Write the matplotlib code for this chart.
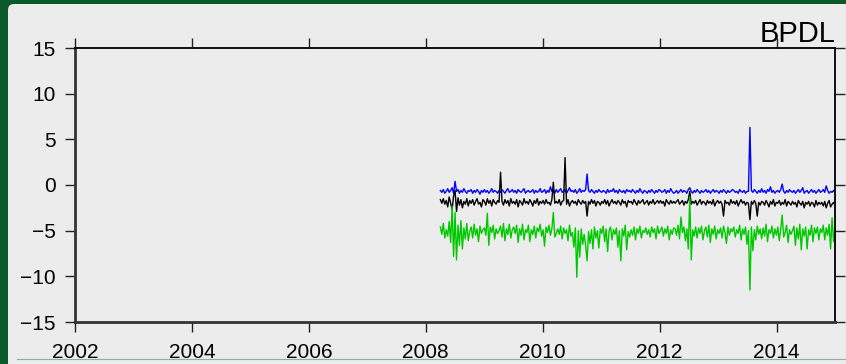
import numpy as np
import matplotlib.pyplot as plt
from matplotlib.patches import FancyBboxPatch
from matplotlib.lines import Line2D
from matplotlib.transforms import IdentityTransform

plt.rcParams['font.family'] = ['Liberation Sans', 'DejaVu Sans']

station = 'BPDL'
t_start, t_end = 2008.25, 2015.0
x_ticks = [2002, 2004, 2006, 2008, 2010, 2012, 2014]
y_ticks = [-15, -10, -5, 0, 5, 10, 15]

# blue series, 10 samples per quarter year
blue_vals = [
    -0.6, -0.8, -0.5, -0.9, -0.7, -0.4, -0.8, -0.6, -0.3, -0.9,
    0.4, -0.7, -0.5, -0.9, -0.6, -0.8, -0.4, -0.7, -0.9, -0.6,
    -0.7, -0.5, -0.9, -0.6, -0.8, -0.5, -0.7, -1.0, -0.6, -0.8,
    -0.5, -0.8, -0.6, -0.9, -0.7, -0.4, -0.8, -0.6, -0.7, -0.9,
    -0.6, -0.8, -0.5, -0.7, -0.9, -0.6, -0.4, -0.8, -0.7, -0.5,
    -0.8, -0.6, -0.9, -0.5, -0.7, -0.8, -0.6, -0.4, -0.9, -0.7,
    -0.6, -0.8, -0.7, -0.5, -0.9, -0.6, -0.8, -0.7, -0.4, -0.8,
    -0.7, -0.5, -0.9, -0.6, -0.8, -0.2, -0.7, -0.6, -0.9, -0.5,
    -0.8, -0.6, -0.4, -0.8, -0.7, -0.5, -0.9, -0.6, -0.3, -0.7,
    -0.6, -0.8, -0.5, -0.9, -0.7, -0.4, -0.8, -0.6, -0.7, -0.5,
    1.2, -0.6, -0.8, -0.5, -0.7, -0.9, -0.6, -0.8, -0.5, -0.7,
    -0.8, -0.6, -0.7, -0.9, -0.5, -0.8, -0.6, -0.7, -0.4, -0.8,
    -0.6, -0.9, -0.5, -0.7, -0.8, -0.6, -0.9, -0.5, -0.7, -0.6,
    -0.8, -0.5, -0.7, -0.9, -0.6, -0.8, -0.4, -0.7, -0.9, -0.6,
    -0.7, -0.9, -0.6, -0.8, -0.5, -0.7, -0.9, -0.6, -0.8, -0.5,
    -0.6, -0.8, -0.7, -0.5, -0.9, -0.6, -0.8, -0.4, -0.7, -0.9,
    -0.8, -0.6, -0.9, -0.7, -0.5, -0.8, -0.6, -0.7, -0.9, -0.5,
    -0.3, -0.7, -0.9, -0.6, -0.8, -0.5, -0.7, -0.9, -0.6, -0.8,
    -0.7, -0.5, -0.8, -0.6, -0.9, -0.7, -0.5, -0.8, -0.6, -0.7,
    -0.9, -0.6, -0.8, -0.5, -0.7, -0.9, -0.6, -0.8, -0.7, -0.5,
    -0.6, -0.8, -0.7, -0.9, -0.5, -0.7, -0.8, -0.6, -0.9, -0.7,
    -0.7, 6.3, -0.6, -0.8, -0.5, -0.7, -0.9, -0.6, -0.8, -0.4,
    -0.8, -0.6, -0.9, -0.5, -0.7, -0.2, -0.8, -0.6, -0.9, -0.7,
    -0.6, -0.8, -0.5, 0.1, -0.7, -0.9, -0.6, -0.8, -0.5, -0.7,
    -0.8, -0.6, -0.9, -0.7, -0.5, -0.8, -0.6, -0.3, -0.9, -0.7,
    -0.6, -0.9, -0.7, -0.5, -0.8, -0.6, -0.9, -0.7, -0.5, -0.8,
    -0.7, -0.5, -0.8, -0.1, -0.6, -0.9, -0.7, -0.8, -0.6, -0.8,
]

black_vals = [
    -1.6, -2.0, -1.5, -2.1, -1.7, -2.4, -1.3, -2.0, -2.7, -1.2,
    -0.6, -2.9, -1.4, -2.2, -1.6, -2.5, -1.8, -2.1, -1.5, -2.3,
    -1.7, -2.0, -1.6, -2.2, -1.8, -1.5, -2.1, -1.9, -2.4, -1.6,
    -1.8, -2.2, -1.5, -2.0, -1.7, -2.3, -1.6, -1.9, -2.1, -1.7,
    -1.9, 1.4, -1.8, -2.2, -1.6, -2.0, -1.7, -2.3, -1.5, -2.0,
    -1.8, -2.1, -1.6, -2.4, -1.7, -1.9, -2.2, -1.5, -2.0, -1.8,
    -2.1, -1.6, -1.9, -2.3, -1.7, -2.0, -1.5, -2.2, -1.8, -2.0,
    -1.7, -2.1, -1.6, -2.0, -1.9, -2.2, -1.6, 0.3, -2.0, -1.8,
    -2.0, -1.6, -2.2, -1.8, -1.7, 3.0, -2.1, -1.6, -2.3, -1.9,
    -1.7, -2.0, -1.8, -2.2, -1.6, -1.9, -2.1, -1.7, -2.0, -1.8,
    -3.4, -1.8, -2.1, -1.6, -2.0, -1.7, -2.3, -1.8, -1.9, -2.2,
    -1.8, -2.0, -1.6, -2.1, -1.7, -2.3, -1.9, -1.6, -2.0, -1.8,
    -2.1, -1.7, -1.9, -2.2, -1.6, -2.0, -1.8, -2.4, -1.7, -1.9,
    -1.8, -2.1, -1.6, -1.9, -2.2, -1.7, -2.0, -1.8, -1.6, -2.1,
    -1.9, -1.7, -2.2, -1.8, -2.0, -1.6, -2.1, -1.9, -1.7, -2.0,
    -1.7, -2.0, -1.8, -2.3, -1.6, -1.9, -2.1, -1.7, -2.0, -1.8,
    -2.0, -1.8, -1.6, -2.1, -1.9, -1.7, -2.2, -1.8, -2.0, -1.6,
    -0.7, -2.1, -1.8, -2.0, -1.7, -2.2, -1.9, -1.6, -2.1, -1.8,
    -1.9, -2.2, -1.7, -2.0, -1.8, -2.1, -1.6, -2.3, -1.9, -1.7,
    -2.0, -1.8, -2.1, -3.4, -1.7, -2.0, -1.9, -2.2, -1.6, -2.0,
    -1.8, -2.1, -1.7, -2.3, -1.9, -1.6, -2.0, -1.8, -2.2, -1.9,
    -2.0, -3.8, -1.8, -2.1, -1.7, -2.0, -3.4, -1.9, -2.2, -1.8,
    -1.9, -2.2, -1.7, -2.0, -2.4, -1.8, -2.1, -1.6, -2.3, -1.9,
    -2.0, -1.7, -2.2, -1.9, -2.1, -1.6, -2.3, -1.8, -2.0, -2.2,
    -1.8, -2.1, -1.9, -2.4, -1.7, -2.0, -2.2, -1.8, -2.5, -1.9,
    -2.1, -1.8, -2.3, -1.9, -2.0, -2.4, -1.7, -2.2, -1.9, -2.1,
    -1.9, -2.3, -1.8, -2.5, -2.0, -1.7, -2.4, -2.1, -1.9, -2.2,
]

green_vals = [
    -4.6, -5.4, -4.2, -5.8, -4.9, -5.6, -4.0, -6.3, -2.3, -7.8,
    -3.0, -8.2, -4.4, -6.6, -3.9, -7.0, -4.7, -5.9, -4.2, -6.1,
    -5.1, -4.6, -5.8, -4.3, -5.5, -4.8, -6.2, -4.5, -5.3, -4.9,
    -4.7, -5.5, -3.1, -6.6, -4.6, -5.2, -4.4, -5.9, -4.8, -5.3,
    -5.0, -4.5, -5.7, -4.2, -6.1, -4.8, -5.4, -4.3, -5.8, -4.9,
    -4.6, -5.3, -4.4, -6.3, -4.8, -5.5, -4.3, -6.0, -4.9, -5.2,
    -4.4, -6.2, -4.9, -5.4, -4.5, -5.8, -4.7, -5.1, -4.3, -5.6,
    -4.9, -6.7, -4.6, -5.2, -4.4, -5.5, -4.8, -3.0, -5.7, -5.3,
    -4.8, -5.4, -4.5, -5.9, -4.7, -5.3, -4.9, -6.1, -4.4, -5.6,
    -5.2, -6.8, -4.7, -10.1, -5.0, -7.9, -4.8, -6.5, -5.4, -6.6,
    -8.3, -5.1, -6.4, -4.9, -7.0, -4.6, -5.8, -5.0, -6.9, -4.8,
    -5.3, -4.5, -6.2, -4.8, -7.3, -5.0, -4.6, -6.0, -4.9, -5.4,
    -4.7, -6.8, -5.0, -8.3, -4.8, -5.6, -4.4, -7.1, -5.1, -5.7,
    -4.9, -5.5, -4.6, -6.0, -4.8, -5.3, -4.5, -5.8, -5.0, -5.2,
    -4.7, -5.4, -4.9, -5.7, -4.6, -5.2, -4.8, -5.9, -4.5, -5.3,
    -5.0, -4.6, -5.6, -4.8, -5.3, -4.5, -6.0, -4.9, -5.4, -4.7,
    -4.8, -5.5, -4.4, -5.9, -3.5, -5.2, -4.6, -6.1, -4.8, -7.0,
    -1.3, -8.2, -4.9, -5.6, -4.6, -5.8, -4.7, -5.3, -4.5, -6.0,
    -5.0, -4.6, -5.7, -4.4, -6.3, -4.8, -5.4, -4.5, -5.9, -4.9,
    -5.3, -4.7, -5.8, -4.5, -5.2, -6.4, -4.6, -5.5, -4.8, -5.1,
    -4.6, -5.7, -4.9, -5.3, -4.4, -6.0, -4.8, -5.4, -4.6, -6.5,
    -5.0, -11.5, -4.6, -7.2, -4.9, -6.0, -4.5, -5.4, -4.8, -5.9,
    -4.7, -5.6, -4.3, -6.2, -4.9, -5.3, -4.5, -5.8, -4.8, -5.5,
    -4.6, -6.1, -4.8, -3.3, -5.7, -5.2, -4.4, -6.3, -4.9, -5.4,
    -5.0, -4.5, -6.6, -4.7, -5.9, -4.3, -7.1, -4.8, -5.6, -4.6,
    -7.0, -4.9, -5.5, -4.4, -6.2, -4.7, -5.3, -4.6, -6.0, -4.8,
    -5.2, -4.4, -6.0, -4.7, -5.5, -4.3, -7.0, -3.6, -6.2, -4.9,
]

t = np.linspace(t_start, t_end, len(blue_vals))

fig = plt.figure(figsize=(8.46, 3.64), dpi=100, facecolor='#0b5a2b')

# light panel with rounded top-left corner
panel = FancyBboxPatch((8, -20), 860, 380, boxstyle='round,pad=0,rounding_size=6',
                       facecolor='#ececec', edgecolor='none',
                       transform=IdentityTransform(), zorder=-2)
fig.add_artist(panel)
fig.add_artist(Line2D([17, 846], [5, 5], color='#8fb0a0', lw=0.8,
                      transform=IdentityTransform(), zorder=-1))

ax = fig.add_axes([75 / 846, 1 - 322 / 364, 760 / 846, 274 / 364])
ax.set_facecolor('#ececec')

ax.plot(t, blue_vals, color='#0000ff', lw=1.0)
ax.plot(t, black_vals, color='black', lw=1.0)
ax.plot(t, green_vals, color='#00c800', lw=1.0)

ax.set_xlim(2002, 2015)
ax.set_ylim(-15, 15)
ax.set_xticks(x_ticks)
ax.set_yticks(y_ticks)
ax.tick_params(direction='out', length=7, width=1, labelsize=15, color='#222222',
               top=True, right=True, labeltop=False, labelright=False)
ax.tick_params(axis='y', pad=7)
ax.tick_params(axis='x', pad=8)

for side in ['left', 'bottom']:
    ax.spines[side].set_linewidth(2)
    ax.spines[side].set_color('#333333')
for side in ['top', 'right']:
    ax.spines[side].set_linewidth(1.3)
    ax.spines[side].set_color('black')

ax.set_title(station, loc='right', fontsize=21, pad=4)

fig.savefig('out.png', dpi=100, facecolor=fig.get_facecolor())
